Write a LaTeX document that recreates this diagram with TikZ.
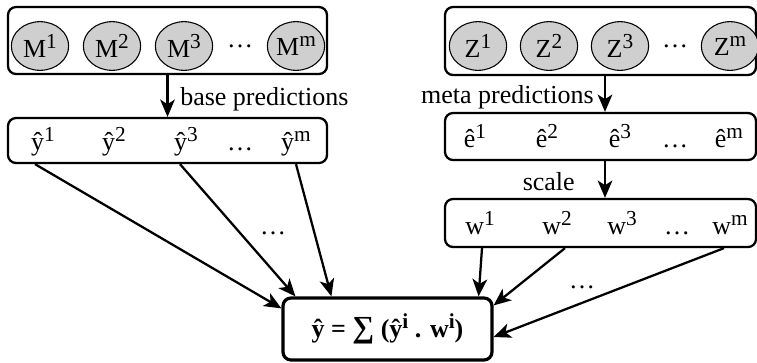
\documentclass[tikz,border=0pt]{standalone}
\usepackage{fontspec}
\setmainfont{Liberation Serif}
\usetikzlibrary{arrows.meta, calc, shapes.geometric}

% raised index, a bit larger than \textsuperscript
\newcommand{\idx}[1]{\raisebox{0.32em}{\fontsize{16}{16}\selectfont #1}}

\begin{document}
\begin{tikzpicture}[>=Latex, x=0.75pt, y=-0.75pt, font=\fontsize{19.5}{23}\selectfont,
    panel/.style={draw, line width=1.7pt, rounded corners=6pt, inner sep=0pt},
    model/.style={ellipse, draw, line width=0.8pt, fill=gray!38, minimum width=43pt,
        minimum height=36.5pt, inner sep=0pt},
    item/.style={inner sep=0pt, anchor=base},
    flow/.style={->, line width=1.7pt, >={Stealth[length=13pt, width=11pt, inset=3.5pt]}}]

    % --- 1. Frame ---
    \useasboundingbox (0,0) rectangle (757,362);
    \clip (0,0) rectangle (757,362);

    \def\rowM{46}  % centre of the model circles
    \def\rowY{150} % baseline of the base predictions
    \def\rowE{147} % baseline of the meta predictions
    \def\rowW{234} % baseline of the weights

    % --- 2. Boxes ---
    \node[panel, minimum width=239.25pt, minimum height=50.25pt] (Mbox) at (167.5,40.5) {};
    \node[panel, minimum width=239.25pt, minimum height=33.75pt] (ybox) at (167.5,140.5) {};
    \node[panel, minimum width=233.25pt, minimum height=51pt] (Zbox) at (600.5,41) {};
    \node[panel, minimum width=233.25pt, minimum height=35.25pt] (ebox) at (600.5,136.5) {};
    \node[panel, minimum width=233.25pt, minimum height=36pt] (wbox) at (600.5,223) {};
    \node[panel, line width=2.4pt, minimum width=156.75pt, minimum height=46.5pt] (sum) at (387.5,329)
        {\bfseries ŷ = {\fontsize{23}{23}\selectfont∑} (ŷ\idx{i} . w\idx{i})};

    % --- 3. Base models and their predictions ---
    \node[model] (M1) at (40,\rowM) {M\idx{1}};
    \node[model] (M2) at (112,\rowM) {M\idx{2}};
    \node[model] (M3) at (184,\rowM) {M\idx{3}};
    \node[inner sep=0pt] (Mdots) at (240,\rowM) {…};
    \node[model] (Mm) at (296,\rowM) {M\idx{m}};

    \node[item] (y1) at (43,\rowY) {ŷ\idx{1}};
    \node[item] (y2) at (114,\rowY) {ŷ\idx{2}};
    \node[item] (y3) at (186,\rowY) {ŷ\idx{3}};
    \node[item] (ydots) at (240,\rowY) {…};
    \node[item] (ym) at (296,\rowY) {ŷ\idx{m}};

    % --- 4. Meta models, errors and weights ---
    \node[model] (Z1) at (478,\rowM) {Z\idx{1}};
    \node[model] (Z2) at (549,\rowM) {Z\idx{2}};
    \node[model] (Z3) at (620,\rowM) {Z\idx{3}};
    \node[inner sep=0pt] (Zdots) at (675,\rowM) {…};
    \node[model] (Zm) at (730,\rowM) {Z\idx{m}};

    \node[item] (e1) at (475,\rowE) {ê\idx{1}};
    \node[item] (e2) at (547,\rowE) {ê\idx{2}};
    \node[item] (e3) at (620,\rowE) {ê\idx{3}};
    \node[item] (edots) at (675,\rowE) {…};
    \node[item] (em) at (729,\rowE) {ê\idx{m}};

    \node[item] (w1) at (480,\rowW) {w\idx{1}};
    \node[item] (w2) at (557,\rowW) {w\idx{2}};
    \node[item] (w3) at (622,\rowW) {w\idx{3}};
    \node[item] (wdots) at (677,\rowW) {…};
    \node[item] (wm) at (730,\rowW) {w\idx{m}};

    % --- 5. Vertical arrows and their labels ---
    \coordinate (rightmid) at (605,0);
    \draw[flow] (Mbox.south) -- (ybox.north);
    \draw[flow] (Zbox.south -| rightmid) -- (ebox.north -| rightmid);
    \draw[flow] (ebox.south -| rightmid) -- (wbox.north -| rightmid);

    \node[inner sep=0pt, anchor=base west] (base) at (180,105) {base predictions};
    \node[inner sep=0pt, anchor=base east] (meta) at (594,103) {meta predictions};
    \node[inner sep=0pt, anchor=base east] (scale) at (575,190) {scale};

    % --- 6. Into the weighted sum ---
    \draw[flow] ($(y1 |- ybox.south)+(-8,0)$) -- ($(sum.north west)+(0,12)$);
    \draw[flow] ($(y3 |- ybox.south)+(-6,0)$) -- ($(sum.north west)+(14,0)$);
    \draw[flow] (ym |- ybox.south) -- ($(sum.north west)+(50,0)$);
    \draw[flow] ($(w1 |- wbox.south)+(2,0)$) -- ($(sum.north east)+(-15,0)$);
    \draw[flow] ($(w2 |- wbox.south)+(8,0)$) -- ($(sum.north east)+(0,9)$);
    \draw[flow] ($(wm |- wbox.south)+(-6,0)$) -- ($(sum.east)+(0,8)$);

    \node[inner sep=0pt] (ldots) at (273,233) {…};
    \node[inner sep=0pt] (rdots) at (582,287) {…};

\end{tikzpicture}
\end{document}
